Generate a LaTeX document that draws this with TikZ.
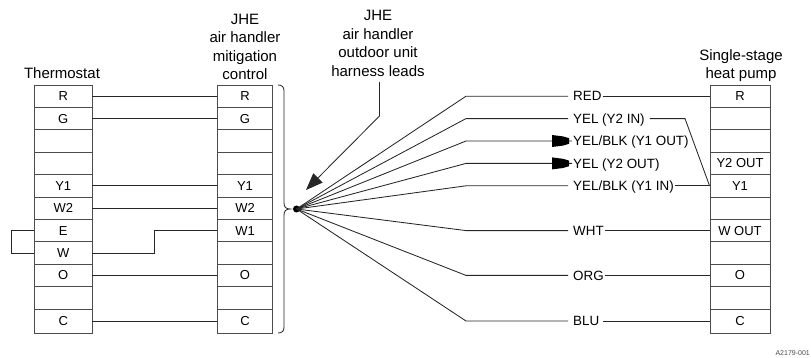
\documentclass[tikz,border=0pt]{standalone}
\usepackage{fontspec}
\setmainfont{Liberation Sans}
\usetikzlibrary{arrows.meta}
\tikzset{
  wire/.style={line width=0.85pt,draw=black!85},
  cellbox/.style={draw=black!70,line width=0.9pt,inner sep=0pt,font=\fontsize{13}{14}\selectfont},
  thermo/.style={cellbox,minimum width=57.5pt},
  mitig/.style={cellbox,minimum width=55pt},
  pump/.style={cellbox,minimum width=60pt},
  title/.style={align=center,inner sep=0pt,font=\fontsize{15}{18.5}\selectfont},
  leadlabel/.style={anchor=west,inner xsep=1pt,inner ysep=0pt,text height=9.6pt,text depth=0pt,font=\fontsize{13.4}{14}\selectfont},
  headfill/.style={fill=black,draw=none},
  hubdot/.style={circle,fill=black,inner sep=0pt,minimum size=7pt}
}
\begin{document}
\begin{tikzpicture}[x=1pt,y=-1pt]
\useasboundingbox (0,0) rectangle (811,358);
% table rows
\foreach \n/\y/\h/\a/\b/\c in {1/96.2/22.4/R/R/R,2/118.6/22.4/G/G/,3/141/22.4///,4/163.4/22.4///Y2 OUT,5/185.8/22.4/Y1/Y1/Y1,6/208.2/22.4/W2/W2/,7/230.6/22.4/E/W1/W OUT,8/253/22.4/W//,9/275.4/22.4/O/O/O,10/297.8/22.4///,11/321/24/C/C/C}{
  \node[thermo,minimum height=\h pt] (t\n) at (63.25,\y) {\a};
  \node[mitig,minimum height=\h pt] (m\n) at (245,\y) {\b};
  \node[pump,minimum height=\h pt] (p\n) at (740,\y) {\c};
}
% titles
\node[title] (ttitle) at (62,73) {Thermostat};
\node[title] (mtitle) at (245,47) {JHE\\air handler\\mitigation\\control};
\node[title] (ltitle) at (378,43.5) {JHE\\air handler\\outdoor unit\\harness leads};
\node[title] (ptitle) at (741,65.5) {Single-stage\\heat pump};
\node[inner sep=0pt,anchor=east,font=\fontsize{7}{8}\selectfont,text=black!70] (code) at (810,353.5) {A2179-001};
% thermostat to mitigation wires
\foreach \n in {1,2,5,6,9,11}{\draw[wire] (t\n) -- (m\n);}
\coordinate (s1) at (154.5,253);
\coordinate (s2) at (154.5,230.6);
\draw[wire] (t8) -- (s1) -- (s2) -- (m7);
% jumper
\coordinate (j1) at (11,230.6);
\coordinate (j2) at (11,253);
\draw[wire] (t7) -- (j1) -- (j2) -- (t8);
% brace
\draw[wire] (278,85) .. controls (282,85) and (284,87) .. (284,91) -- (284,203) .. controls (284,207) and (286,209) .. (290,209)
  .. controls (286,209) and (284,211) .. (284,215) -- (284,327) .. controls (284,331) and (282,333) .. (278,333);
% hub
\node[hubdot] (hub) at (296.5,209) {};
% pointer
\coordinate (pbend) at (379.5,116);
\draw[wire,-{Triangle[length=17pt,width=13pt]}] (379.5,82) -- (pbend) -- (306,190);
% lead labels
\node[leadlabel] (lred) at (572,96.2) {RED};
\node[leadlabel] (ly2in) at (572,118.6) {YEL (Y2 IN)};
\node[leadlabel] (ly1out) at (572,141) {YEL/BLK (Y1 OUT)};
\node[leadlabel] (ly2out) at (572,163.4) {YEL (Y2 OUT)};
\node[leadlabel] (ly1in) at (572,185.8) {YEL/BLK (Y1 IN)};
\node[leadlabel] (lwht) at (572,230.6) {WHT};
\node[leadlabel] (lorg) at (572,275.4) {ORG};
\node[leadlabel] (lblu) at (572,321) {BLU};
% bends
\coordinate (b1) at (466,96.2);
\coordinate (b2) at (466,118.6);
\coordinate (b3) at (466,141);
\coordinate (b4) at (466,163.4);
\coordinate (b5) at (466,185.8);
\coordinate (b6) at (466,230.6);
\coordinate (b7) at (466,275.4);
\coordinate (b8) at (466,321);
\foreach \n/\l in {1/lred,2/ly2in,5/ly1in,6/lwht,7/lorg,8/lblu}{
  \draw[wire,shorten >=4pt] (hub.center) -- (b\n) -- (\l.west);
}
\foreach \n/\l in {3/ly1out,4/ly2out}{
  \draw[wire] (hub.center) -- (b\n) -- (\l.west);
  \fill[headfill] ([xshift=-20pt,yshift=-6pt]\l.west) -- ([xshift=-9pt,yshift=-4.6pt]\l.west) -- ([xshift=-3pt,yshift=-2.8pt]\l.west) -- ([xshift=-3pt,yshift=2.8pt]\l.west) -- ([xshift=-9pt,yshift=4.6pt]\l.west) -- ([xshift=-20pt,yshift=6pt]\l.west) -- cycle;
}
% lead labels to pump
\foreach \l/\n in {lred/1,ly1in/5,lwht/7,lorg/9}{\draw[wire] (\l.east) -- (p\n);}
\draw[wire,shorten <=3pt] (lblu.east) -- (p11);
\coordinate (ybend) at (685,118.6);
\draw[wire,shorten <=4pt] (ly2in.east) -- (ybend) -- (p5.west);
\end{tikzpicture}
\end{document}
